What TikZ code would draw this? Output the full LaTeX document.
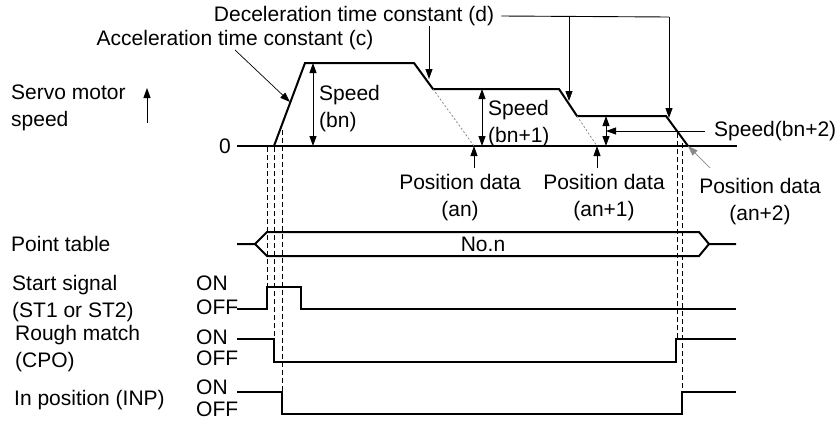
\documentclass[tikz,border=0pt]{standalone}
\usepackage{fontspec}
\setmainfont{Liberation Sans}
\usetikzlibrary{arrows.meta,positioning,calc}
\definecolor{ink}{HTML}{000000}
\definecolor{inkfaint}{HTML}{8A8A8A}

\begin{document}
\begin{tikzpicture}[
  x=1pt, y=-1pt,
  every node/.style={font=\fontsize{21}{27}\selectfont, inner sep=0pt, text=ink},
  wave/.style={line width=2pt, draw=ink},
  note/.style={line width=0.9pt, draw=ink},
  tip/.style={note, -{Triangle[length=10pt,width=7pt]}},
  dbl/.style={note, {Triangle[length=10pt,width=7pt]}-{Triangle[length=10pt,width=7pt]}},
  guide/.style={line width=0.9pt, draw=ink, dash pattern=on 5pt off 3pt},
  extend/.style={line width=0.8pt, draw=inkfaint, dash pattern=on 2pt off 2pt},
  label/.style={anchor=west, align=left}
]
\useasboundingbox (0,0) rectangle (837,421);

% speed profile
\coordinate (z0) at (237,146);
\coordinate (a0) at (274,146);
\coordinate (a1) at (305,63);
\coordinate (b1) at (414,63);
\coordinate (b2) at (433,89);
\coordinate (c1) at (559,89);
\coordinate (c2) at (577,116);
\coordinate (d1) at (666,116);
\coordinate (d2) at (688,146);
\coordinate (z1) at (737,146);
\coordinate (p1) at (474,146);
\coordinate (p2) at (597,146);
\draw[wave] (z0) -- (z1);
\draw[wave] (a0) -- (a1) -- (b1) -- (b2) -- (c1) -- (c2) -- (d1) -- (d2);
\draw[extend] (b2) -- (p1);
\draw[extend] (c2) -- (p2);

\node[anchor=east] (zero) at ($(z0)+(-6,0)$) {0};
\node[label] (servo) at (11,108) {Servo motor\\speed};
\coordinate (up0) at (147,123);
\coordinate (up1) at (147,88);
\draw[tip] (up0) -- (up1);

% time constants
\node (acc) at (235,40) {Acceleration time constant (c)};
\coordinate (ta) at (290,102);
\draw[tip, line width=0.7pt] (acc.south) -- (ta);

\node (dec) at (354,16) {Deceleration time constant (d)};
\coordinate (k2) at (569,17);
\coordinate (k3) at (669,17);
\coordinate (t1) at (429,79);
\coordinate (t2) at (569,101);
\coordinate (t3) at (669,118);
\draw[note] ([xshift=7pt]dec.east) -- (k3);
\draw[tip] (dec.south -| t1) -- (t1);
\draw[tip] (k2) -- (t2);
\draw[tip] (k3) -- (t3);

% speeds
\coordinate (s1) at (313,63);
\coordinate (s2) at (482,89);
\coordinate (s3) at (606,116);
\draw[dbl] (s1) -- (s1 |- z0);
\draw[dbl] (s2) -- (s2 |- z0);
\draw[dbl] (s3) -- (s3 |- z0);
\node[label] (spd1) at (319,108.5) {Speed\\(bn)};
\node[label] (spd2) at (488,123.5) {Speed\\(bn+1)};
\node[anchor=west] (spd3) at (714,131) {Speed(bn+2)};
\draw[tip] ([xshift=-9pt]spd3.west) -- (spd3.west -| s3);

% position data
\node[align=center] (pos1) at (460,198) {Position data\\(an)};
\node[align=center] (pos2) at (604,198) {Position data\\(an+1)};
\node[align=center] (pos3) at (760,202) {Position data\\(an+2)};
\coordinate (q1) at (474,168);
\coordinate (q2) at (597,168);
\coordinate (q3) at (710,168);
\draw[tip] (q1) -- (p1);
\draw[tip] (q2) -- (p2);
\draw[tip, draw=inkfaint, line width=0.7pt] (q3) -- (d2);

% point table
\node[anchor=west] (ptab) at (11,244) {Point table};
\node (non) at (483,244) {No.n};
\draw[wave] (237,244) -- (255,244) -- (267,232) -- (699,232) -- (709,244) -- (736,244);
\draw[wave] (255,244) -- (267,256) -- (699,256) -- (709,244);

% signals
\node[label] (st) at (12,298.5) {Start signal\\(ST1 or ST2)};
\node[anchor=west] (on1) at (196,283) {ON};
\node[anchor=west] (off1) at (196,307) {OFF};
\draw[wave] (237,309) -- (267,309) -- (267,287) -- (301,287) -- (301,309) -- (736,309);

\node[label] (cpo) at (15,348.5) {Rough match\\(CPO)};
\node[anchor=west] (on2) at (196,337) {ON};
\node[anchor=west] (off2) at (196,358) {OFF};
\draw[wave] (237,339) -- (274,339) -- (274,362) -- (676,362) -- (676,339) -- (736,339);

\node[anchor=west] (inp) at (14,400) {In position (INP)};
\node[anchor=west] (on3) at (196,387) {ON};
\node[anchor=west] (off3) at (196,409) {OFF};
\draw[wave] (237,392) -- (282,392) -- (282,414) -- (682,414) -- (682,392) -- (736,392);

% guides
\draw[guide] (267,147) -- (267,287);
\draw[guide] (274,147) -- (274,339);
\draw[guide] (282,130) -- (282,392);
\draw[guide] (677,133) -- (677,339);
\draw[guide] (682,143) -- (682,392);
\end{tikzpicture}
\end{document}
